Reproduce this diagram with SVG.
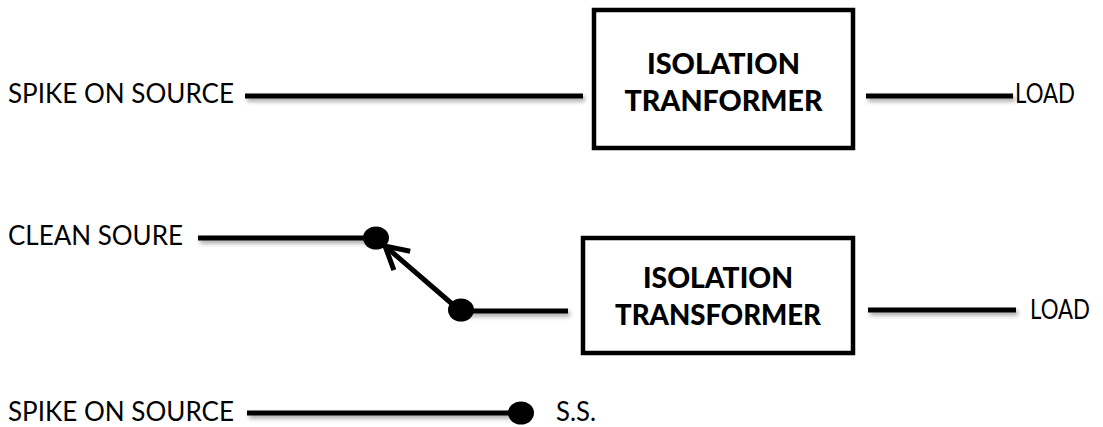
<svg xmlns="http://www.w3.org/2000/svg" width="1103" height="427" viewBox="0 0 1103 427">
  <style>
    .lbl { font-family: Lato, "Open Sans", "Liberation Sans", sans-serif; font-size: 27px; fill: #000; }
    .box { fill: #fff; stroke: #000; stroke-width: 4.5; }
    .boxt { font-family: Lato, "Open Sans", "Liberation Sans", sans-serif; font-size: 28px; font-weight: 900; fill: #000; text-anchor: middle; }
    .wire { stroke: #000; stroke-width: 5; fill: none; filter: url(#sh); }
    .dot { fill: #000; }
  </style>
  <defs>
    <filter id="sh" filterUnits="userSpaceOnUse" x="0" y="0" width="1103" height="427">
      <feDropShadow dx="2" dy="3" stdDeviation="2" flood-color="#000" flood-opacity="0.35"/>
    </filter>
    <marker id="arr" viewBox="0 0 12 12" refX="10" refY="6" markerWidth="6" markerHeight="6" markerUnits="strokeWidth" orient="auto">
      <path d="M1,1 L10,6 L1,11" fill="none" stroke="#000" stroke-width="2"/>
    </marker>
  </defs>

  <g id="labels">
    <text class="lbl" x="8" y="103" textLength="226" lengthAdjust="spacingAndGlyphs">SPIKE ON SOURCE</text>
    <text class="lbl" x="1015" y="103" textLength="60" lengthAdjust="spacingAndGlyphs">LOAD</text>
    <text class="lbl" x="8" y="245" textLength="175" lengthAdjust="spacingAndGlyphs">CLEAN SOURE</text>
    <text class="lbl" x="1030" y="319" textLength="60" lengthAdjust="spacingAndGlyphs">LOAD</text>
    <text class="lbl" x="8" y="421" textLength="226" lengthAdjust="spacingAndGlyphs">SPIKE ON SOURCE</text>
    <text class="lbl" x="556" y="421" textLength="40" lengthAdjust="spacingAndGlyphs">S.S.</text>
  </g>

  <g id="transformer1">
    <rect class="box" x="594" y="10" width="259" height="138"/>
    <text class="boxt" x="723.5" y="74" textLength="153" lengthAdjust="spacingAndGlyphs">ISOLATION</text>
    <text class="boxt" x="723.5" y="111" textLength="198" lengthAdjust="spacingAndGlyphs">TRANFORMER</text>
  </g>

  <g id="transformer2">
    <rect class="box" x="583" y="238" width="270" height="115"/>
    <text class="boxt" x="718" y="288" textLength="150" lengthAdjust="spacingAndGlyphs">ISOLATION</text>
    <text class="boxt" x="718" y="325" textLength="206" lengthAdjust="spacingAndGlyphs">TRANSFORMER</text>
  </g>

  <g id="connectors">
    <line class="wire" x1="245" y1="96" x2="583" y2="96"/>
    <line class="wire" x1="866" y1="96" x2="1013" y2="96"/>
    <line class="wire" x1="198" y1="238" x2="376" y2="238"/>
    <line class="wire" x1="460" y1="311" x2="568" y2="311"/>
    <line class="wire" x1="868" y1="310" x2="1016" y2="310"/>
    <line class="wire" x1="247" y1="413" x2="520" y2="413"/>
    <line x1="458" y1="309" x2="385" y2="246" stroke="#000" stroke-width="5" marker-end="url(#arr)"/>
    <ellipse class="dot" cx="376" cy="238" rx="13" ry="11.5"/>
    <ellipse class="dot" cx="461" cy="310" rx="13" ry="11.5"/>
    <ellipse class="dot" cx="521" cy="413" rx="13" ry="11.5"/>
  </g>
</svg>
